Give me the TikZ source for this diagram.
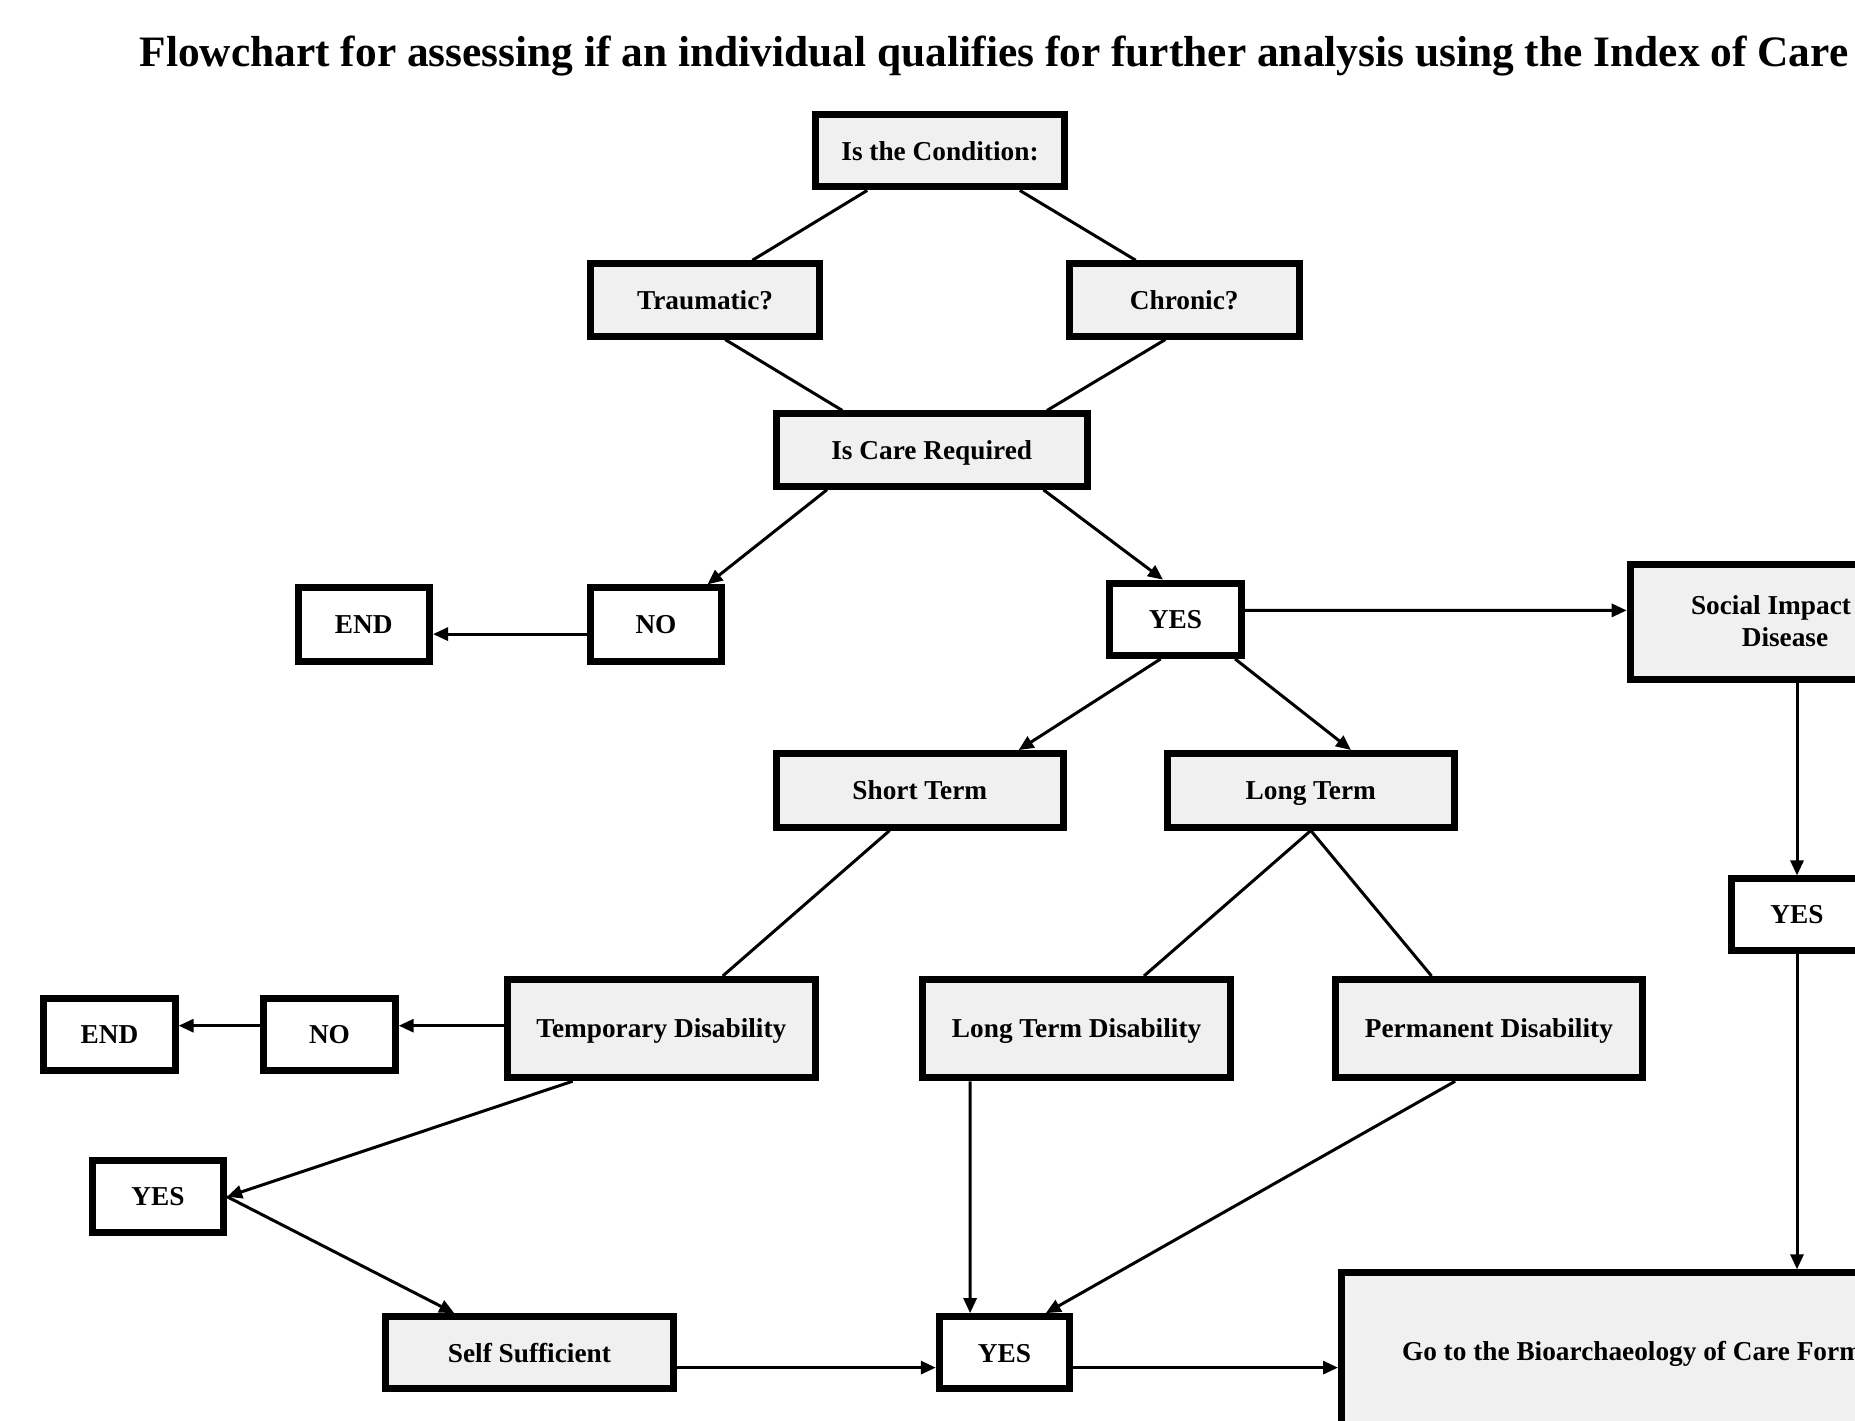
\documentclass[tikz,border=0pt]{standalone}
\usepackage{fontspec}
\setmainfont{Liberation Serif}
\usetikzlibrary{arrows.meta}
\definecolor{boxgray}{RGB}{240,240,240}
\tikzset{
  box/.style={draw, line width=7pt, fill=boxgray, inner sep=0pt, align=center,
    text height=21pt, text depth=2.5pt,
    font=\bfseries\fontsize{27.3}{32}\selectfont},
  wbox/.style={box, fill=white},
  sz/.style 2 args={minimum width=#1pt, minimum height=#2pt},
  conn/.style={line width=3pt},
  arr/.style={conn, -{Triangle[length=15pt,width=13pt]}},
}
\begin{document}
\begin{tikzpicture}[x=1pt,y=-1pt]
\useasboundingbox (0,0) rectangle (1855,1421);
\clip (0,0) rectangle (1855,1421);
\fill[white] (0,0) rectangle (1855,1421);

\node[font=\bfseries\fontsize{43.4}{50}\selectfont] (title) at (994,56.5) {Flowchart for assessing if an individual qualifies for further analysis using the Index of Care};

\node[box, sz={249.7}{72.3}] (cond) at (940,150.8) {Is the Condition:};
\node[box, sz={229.6}{72.3}] (trau) at (705.1,299.9) {Traumatic?};
\node[box, sz={229.6}{72.3}] (chron) at (1184.2,299.9) {Chronic?};
\node[box, sz={311.2}{72.3}] (care) at (931.7,450.1) {Is Care Required};
\node[wbox, sz={131.4}{73.4}] (endt) at (363.8,624.6) {END};
\node[wbox, sz={131.4}{73.4}] (not) at (656,624.6) {NO};
\node[wbox, sz={131.4}{72.3}] (yes) at (1175.4,619.3) {YES};
\node[box, sz={281.6}{114.8}, text height=53pt] (social) at (1771,621.7) {Social Impact\\\hspace*{28pt}Disease};
\node[box, sz={287.6}{73.5}] (short) at (919.8,790.3) {Short Term};
\node[box, sz={286.4}{73.5}] (long) at (1310.8,790.3) {Long Term};
\node[wbox, sz={130.3}{71.1}] (yesr) at (1797,914.5) {YES};
\node[box, sz={307.7}{98.3}] (temp) at (661.3,1028.6) {Temporary Disability};
\node[box, sz={307.7}{98.3}] (ltd) at (1076.6,1028.6) {Long Term Disability};
\node[box, sz={306.5}{98.3}] (perm) at (1488.9,1028.6) {Permanent Disability};
\node[wbox, sz={131.4}{72.3}] (endl) at (109.4,1034.6) {END};
\node[wbox, sz={131.4}{72.3}] (nol) at (329.5,1034.6) {NO};
\node[wbox, sz={131.4}{72.3}] (yesl) at (157.9,1196.7) {YES};
\node[box, sz={287.6}{72.3}] (self) at (529.4,1352.8) {Self Sufficient};
\node[wbox, sz={130.2}{72.3}] (yesb) at (1004.4,1352.8) {YES};
\node[box, sz={581}{156.3}] (go) at (1632,1351) {Go to the Bioarchaeology of Care Form};

\draw[conn] ([xshift=-72.8pt]cond.south) -- ([xshift=47.3pt]trau.north);
\draw[conn] ([xshift=79.8pt]cond.south) -- ([xshift=-48.5pt]chron.north);
\draw[conn] ([xshift=20.1pt]trau.south) -- ([xshift=-89.4pt]care.north);
\draw[conn] ([xshift=-18.9pt]chron.south) -- ([xshift=115.3pt]care.north);
\draw[arr] ([xshift=-104.7pt]care.south) -- ([xshift=51.5pt]not.north);
\draw[arr] ([xshift=111.7pt]care.south) -- ([xshift=-12.4pt]yes.north);
\draw[arr] ([yshift=-9.5pt]not.west) -- ([yshift=-9.5pt]endt.east);
\draw[arr] ([yshift=8.9pt]yes.east) -- ([yshift=11.3pt]social.west);
\draw[arr] ([xshift=-14.8pt]yes.south) -- ([xshift=98.8pt]short.north);
\draw[arr] ([xshift=59.7pt]yes.south) -- ([xshift=40.2pt]long.north);
\draw[conn] ([xshift=-30.2pt]short.south) -- ([xshift=61.5pt]temp.north);
\draw[conn] (long.south) -- ([xshift=67.4pt]ltd.north);
\draw[conn] (long.south) -- ([xshift=-57.4pt]perm.north);
\draw[arr] ([yshift=2.9pt]temp.west) -- ([yshift=8.9pt]nol.east);
\draw[arr] ([yshift=8.9pt]nol.west) -- ([yshift=8.9pt]endl.east);
\draw[arr] ([xshift=-88.7pt]temp.south) -- (yesl.east);
\draw[arr] (yesl.east) -- ([xshift=-75.1pt]self.north);
\draw[arr] ([xshift=-106.5pt]ltd.south) -- ([xshift=-34.3pt]yesb.north);
\draw[arr] ([xshift=-33.8pt]perm.south) -- ([xshift=41.4pt]yesb.north);
\draw[arr] ([yshift=-14.8pt]self.east) -- ([yshift=-14.8pt]yesb.west);
\draw[arr] ([yshift=-14.8pt]yesb.east) -- ([yshift=-16.6pt]go.west);
\draw[arr] ([xshift=26pt]social.south) -- (yesr.north);
\draw[arr] (yesr.south) -- ([xshift=165pt]go.north);
\end{tikzpicture}
\end{document}
